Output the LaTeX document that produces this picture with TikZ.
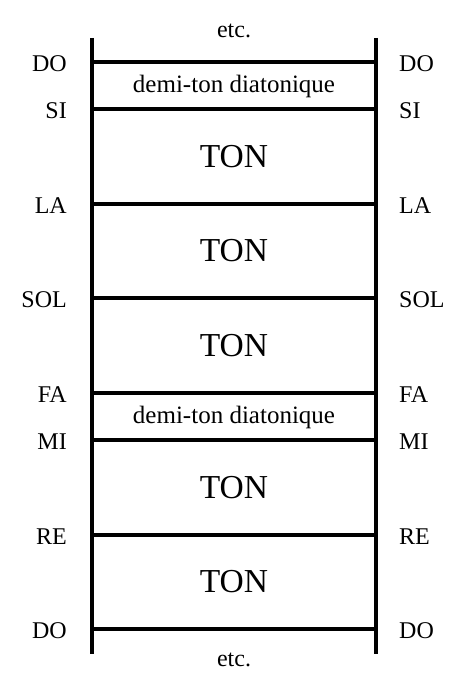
\documentclass[tikz,border=0pt]{standalone}
\usepackage{fontspec}
\setmainfont{Liberation Serif}
\begin{document}
\begin{tikzpicture}[x=1pt,y=-1pt,
  rail/.style={line width=3.2pt},
  rung/.style={line width=3.2pt},
  notel/.style={anchor=east,inner sep=0pt,font=\fontsize{24}{24}\selectfont},
  noter/.style={anchor=west,inner sep=0pt,font=\fontsize{24}{24}\selectfont},
  ton/.style={inner sep=0pt,font=\fontsize{33.5}{33.5}\selectfont},
  demi/.style={inner sep=0pt,font=\fontsize{25}{25}\selectfont},
  etc/.style={inner sep=0pt,font=\fontsize{24}{24}\selectfont}]
\useasboundingbox (0,0) rectangle (465,685);
% rails
\coordinate (lt) at (92,38);
\coordinate (lb) at (92,654);
\coordinate (rt) at (376,38);
\coordinate (rb) at (376,654);
\draw[rail] (lt) -- (lb);
\draw[rail] (rt) -- (rb);
% rungs and labels
\foreach \n/\y/\lab in {do1/62/DO, si/109/SI, la/204/LA, sol/298/SOL, fa/393/FA, mi/440/MI, re/535/RE, do2/629/DO}{
  \coordinate (\n-l) at (92,\y);
  \coordinate (\n-r) at (376,\y);
  \draw[rung] (\n-l) -- (\n-r);
  \node[notel] (\n-tl) at (67,\y+2) {\lab};
  \node[noter] (\n-tr) at (399,\y+2) {\lab};
}
% interval texts
\node[etc] (etc1) at (234,31) {etc.};
\node[demi] (d1) at (234,86) {demi-ton diatonique};
\node[ton] (t1) at (234,157) {TON};
\node[ton] (t2) at (234,251) {TON};
\node[ton] (t3) at (234,346) {TON};
\node[demi] (d2) at (234,417) {demi-ton diatonique};
\node[ton] (t4) at (234,488) {TON};
\node[ton] (t5) at (234,582) {TON};
\node[etc] (etc2) at (234,660) {etc.};
\end{tikzpicture}
\end{document}
